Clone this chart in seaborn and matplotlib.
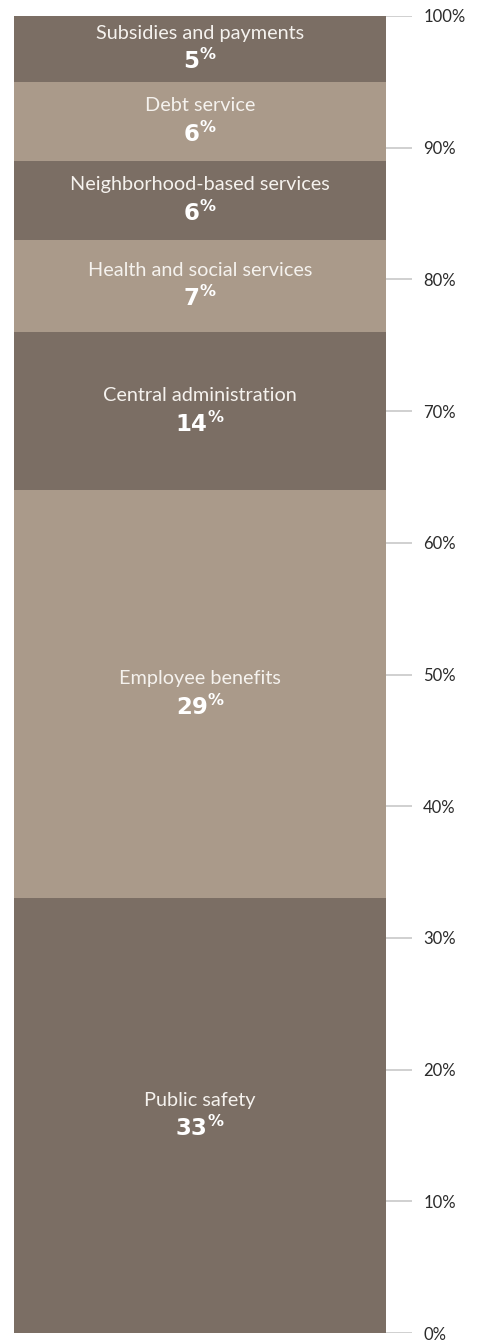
import matplotlib
matplotlib.use("Agg")
import matplotlib.pyplot as plt
import seaborn as sns
import numpy as np

# Datos del gráfico (de abajo hacia arriba)
categorias = ["Public safety", "Employee benefits", "Central administration",
              "Health and social services", "Neighborhood-based services",
              "Debt service", "Subsidies and payments"]
alturas = [33, 31, 12, 7, 6, 6, 5]          # alto dibujado de cada tramo
etiquetas = ["33", "29", "14", "7", "6", "6", "5"]  # porcentaje rotulado
colores = ["#7b6e64", "#aa9a8a"]
ticks_y = list(range(0, 101, 10))

sns.set_style("white")
plt.rcParams['font.family'] = ['Lato', 'DejaVu Sans']
plt.rcParams['mathtext.fontset'] = 'dejavusans'

fig = plt.figure(figsize=(4.78, 13.41), dpi=100)
ax = fig.add_axes([14 / 478, 8 / 1341, (412 - 14) / 478, (1333 - 16) / 1341])

acumulado = np.cumsum(alturas)
ancho = 0.8
# barras acumuladas, de la más alta a la más baja, para simular el apilado
for i in range(len(categorias) - 1, -1, -1):
    sns.barplot(x=["total"], y=[acumulado[i]], color=colores[i % 2],
                width=ancho, saturation=1, ax=ax, linewidth=0, zorder=2)

ax.set_xlim(-ancho / 2, -ancho / 2 + ancho * (412 - 14) / (386 - 14))
ax.set_ylim(0, 100)

bases = np.concatenate([[0], acumulado[:-1]])
for nombre, base, alto, etq in zip(categorias, bases, alturas, etiquetas):
    medio = base + alto / 2
    ax.text(0, medio + 0.76, nombre, ha="center", va="baseline",
            color="#f5f2ee", fontsize=14.3, fontweight="normal", zorder=3)
    ax.text(0, medio - 1.55, r"$\mathbf{" + etq + r"}^{\mathbf{\%}}$",
            ha="center", va="baseline", color="white", fontsize=16.5, zorder=3)

ax.set_yticks(ticks_y)
ax.set_yticklabels([f"{t}%" for t in ticks_y], fontsize=12, color="#2b2b2b")
ax.yaxis.tick_right()
ax.tick_params(axis="y", length=0, pad=8)
ax.set_xticks([])
ax.set_xlabel("")
ax.set_ylabel("")
ax.yaxis.grid(True, color="#c4c4c4", linewidth=1.1, zorder=0)
ax.set_axisbelow(True)
for s in ax.spines.values():
    s.set_visible(False)

fig.savefig("out.png", dpi=100)
